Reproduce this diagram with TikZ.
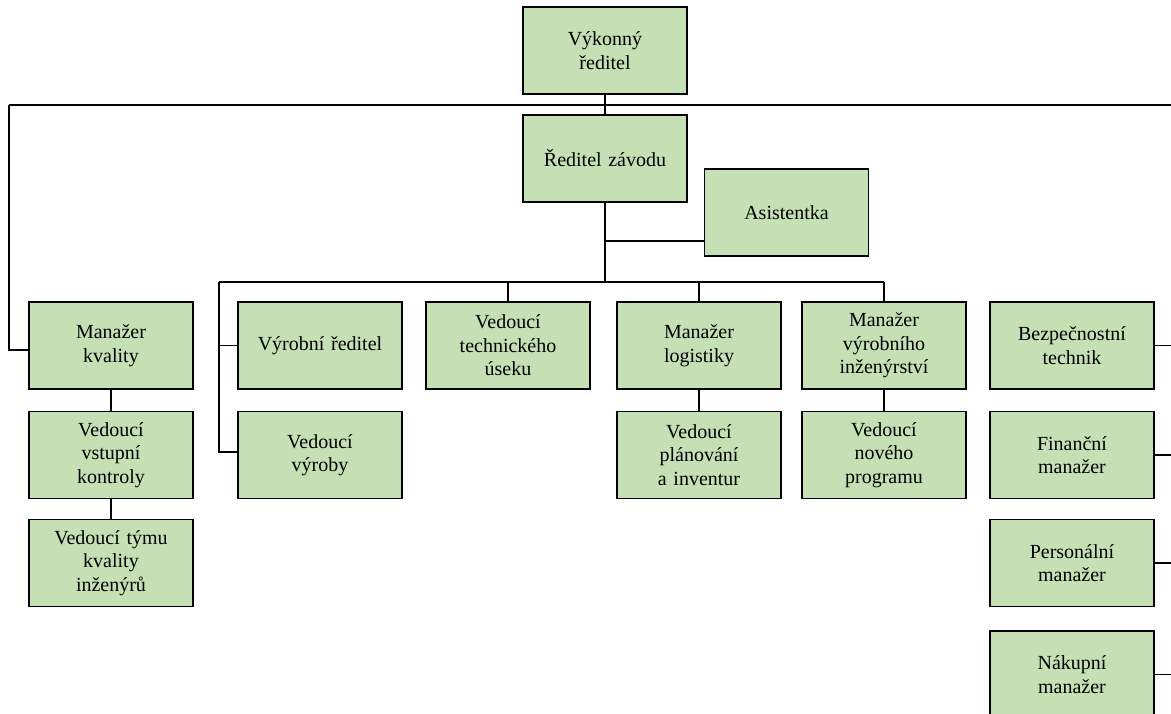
\documentclass[tikz,border=0pt]{standalone}
\usepackage{fontspec}
\setmainfont{Liberation Serif}
\definecolor{boxgreen}{RGB}{197,224,180}
\tikzset{
  orgbox/.style={draw=black, line width=1.6pt, fill=boxgreen, minimum width=164pt, minimum height=87pt,
    inner sep=2pt, align=center, text width=158pt, font=\fontsize{20}{23.5}\selectfont},
  conn/.style={draw=black, line width=1.5pt}
}
\begin{document}
\begin{tikzpicture}[x=1pt,y=-1pt]
\useasboundingbox (0,0) rectangle (1171,714);
% connectors coordinates
\coordinate (TL) at (9,105);
\coordinate (TR) at (1173,105);
\coordinate (AJ) at (605,241);
\coordinate (BJ) at (605,282);
\coordinate (BL) at (219,282);
\coordinate (BR) at (884,282);
\coordinate (RV) at (1173,675);
% nodes
\node[orgbox] (vr)  at (605,50.5)  {Výkonný\\ředitel};
\node[orgbox] (rz)  at (605,158.5) {Ředitel závodu};
\node[orgbox] (as)  at (786.5,212.5) {Asistentka};
\node[orgbox] (mk)  at (111,345.5) {Manažer\\kvality};
\node[orgbox] (vk)  at (111,455)   {Vedoucí\\vstupní\\kontroly};
\node[orgbox] (vt)  at (111,563)   {Vedoucí týmu\\kvality\\inženýrů};
\node[orgbox] (vyr) at (320,345.5) {Výrobní ředitel};
\node[orgbox] (vv)  at (320,455)   {Vedoucí\\výroby};
\node[orgbox] (vtu) at (508,345.5) {Vedoucí\\technického\\úseku};
\node[orgbox] (ml)  at (699,345.5) {Manažer\\logistiky};
\node[orgbox] (vpi) at (699,455)   {Vedoucí\\plánování\\a inventur};
\node[orgbox] (mvi) at (884,345.5) {Manažer\\výrobního\\inženýrství};
\node[orgbox] (vnp) at (884,455)   {Vedoucí\\nového\\programu};
\node[orgbox] (bt)  at (1072,345.5) {Bezpečnostní\\technik};
\node[orgbox] (fm)  at (1072,455)   {Finanční\\manažer};
\node[orgbox] (pm)  at (1072,563)   {Personální\\manažer};
\node[orgbox] (nm)  at (1072,674.5) {Nákupní\\manažer};
% connectors
\draw[conn] (vr.south) -- (rz.north);
\draw[conn] (TL) -- (TR);
\draw[conn] (TL) |- ([yshift=-4.5pt]mk.west);
\draw[conn] (TR) -- (RV);
\draw[conn] (rz.south) -- (BJ);
\draw[conn] (AJ) -- (AJ -| as.west);
\draw[conn] (BL) -- (BR);
\draw[conn] (BL) |- ([yshift=3pt]vv.west);
\draw[conn] (BL |- vyr.west) -- (vyr.west);
\draw[conn] (vtu.north |- BL) -- (vtu.north);
\draw[conn] (ml.north |- BL) -- (ml.north);
\draw[conn] (BR) -- (mvi.north);
\draw[conn] (mk.south) -- (vk.north);
\draw[conn] (vk.south) -- (vt.north);
\draw[conn] (ml.south) -- (vpi.north);
\draw[conn] (mvi.south) -- (vnp.north);
\draw[conn] (bt.east) -- (bt.east -| TR);
\draw[conn] (fm.east) -- (fm.east -| TR);
\draw[conn] (pm.east) -- (pm.east -| TR);
\draw[conn] (nm.east) -- (nm.east -| TR);
\end{tikzpicture}
\end{document}
